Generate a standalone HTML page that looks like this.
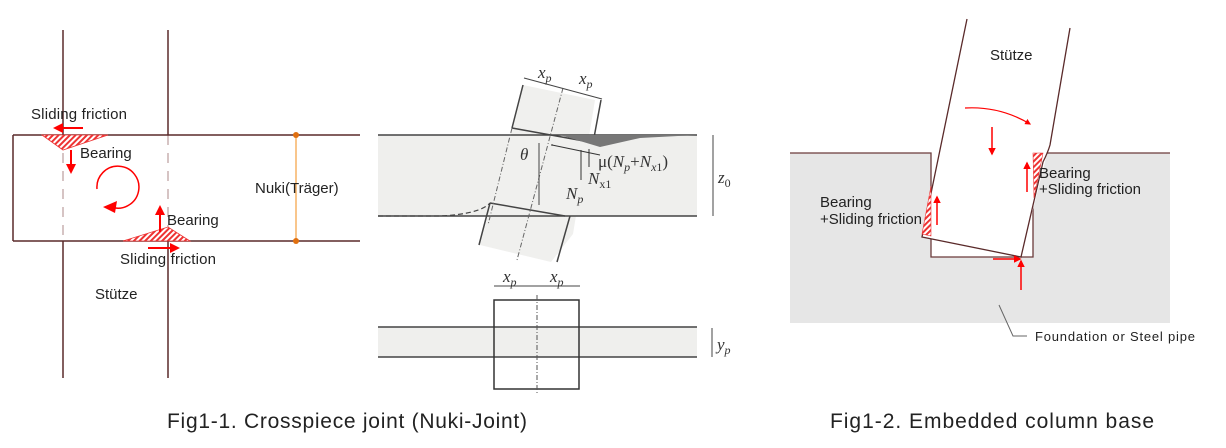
<!DOCTYPE html>
<html><head><meta charset="utf-8"><style>
body{margin:0;background:#fff;width:1226px;height:448px;overflow:hidden}
svg{display:block}
text{font-family:"Liberation Sans","DejaVu Sans",sans-serif;fill:#222}
.s{font-family:"Liberation Serif",serif;font-style:italic;fill:#333}
</style></head><body>
<svg width="1226" height="448" viewBox="0 0 1226 448">
<defs>
<pattern id="h" width="4" height="4" patternUnits="userSpaceOnUse" patternTransform="rotate(45)">
<rect width="4" height="4" fill="#fff"/><rect width="2" height="4" fill="#e33"/></pattern>
<marker id="a" viewBox="0 0 10 10" refX="8" refY="5" markerWidth="5" markerHeight="5" orient="auto"><path d="M0,0L10,5L0,10z" fill="red"/></marker>
<marker id="d" viewBox="0 0 10 10" refX="5" refY="5" markerWidth="3" markerHeight="3"><circle cx="5" cy="5" r="3" fill="#444"/></marker>
</defs>
<!-- LEFT -->
<line x1="63" y1="30" x2="63" y2="135" stroke="#5a2a2a" stroke-width="1.5"/>
<line x1="63" y1="241" x2="63" y2="378" stroke="#5a2a2a" stroke-width="1.5"/>
<line x1="168" y1="30" x2="168" y2="135" stroke="#5a2a2a" stroke-width="1.5"/>
<line x1="168" y1="241" x2="168" y2="378" stroke="#5a2a2a" stroke-width="1.5"/>
<line x1="63" y1="135" x2="63" y2="241" stroke="#c8b0b0" stroke-width="1.5" stroke-dasharray="10,8"/>
<line x1="168" y1="135" x2="168" y2="241" stroke="#c8b0b0" stroke-width="1.5" stroke-dasharray="10,8"/>
<path d="M13,135H360M13,241H360M13,135V241" stroke="#5a2a2a" stroke-width="1.5" fill="none"/>
<line x1="296" y1="135" x2="296" y2="241" stroke="#f5a040" stroke-width="1.2"/>
<circle cx="296" cy="135" r="3" fill="#e07010"/><circle cx="296" cy="241" r="3" fill="#e07010"/>
<polygon points="42,135 108,135 63,150" fill="url(#h)" stroke="#e33" stroke-width="0.8"/>
<polygon points="123,241 190,241 168,227" fill="url(#h)" stroke="#e33" stroke-width="0.8"/>
<line x1="83" y1="128" x2="55" y2="128" stroke="red" stroke-width="2" marker-end="url(#a)"/>
<line x1="71" y1="150" x2="71" y2="172" stroke="red" stroke-width="2" marker-end="url(#a)"/>
<line x1="160" y1="232" x2="160" y2="207" stroke="red" stroke-width="2" marker-end="url(#a)"/>
<line x1="148" y1="248" x2="178" y2="248" stroke="red" stroke-width="2" marker-end="url(#a)"/>
<path d="M97,189 A21,21 0 1 1 111,207" stroke="red" stroke-width="1.5" fill="none"/>
<path d="M103,207 L117,201 L115,213 z" fill="red"/>
<text x="31" y="119" font-size="15" textLength="96">Sliding friction</text>
<text x="80" y="158" font-size="15">Bearing</text>
<text x="167" y="225" font-size="15">Bearing</text>
<text x="120" y="264" font-size="15" textLength="96">Sliding friction</text>
<text x="95" y="299" font-size="15">Stütze</text>
<text x="255" y="193" font-size="15">Nuki(Träger)</text>
<!-- MIDDLE -->
<rect x="378" y="135" width="319" height="81" fill="#efefed"/>
<polygon points="523,85 595,100 573,234 551,262 480,245" fill="#f0f0ee"/>
<path d="M378,135H697M378,216H697" stroke="#444" stroke-width="1.5"/>
<path d="M523,85L512,128M601,100L593,143M512,128L595,143M490,203L565,216M490,203L479,245M570,216L557,262" stroke="#444" stroke-width="1.5" fill="none"/>
<path d="M560,135L600,147L640,138L697,135Z" fill="#777"/>
<path d="M378,216H440Q480,214 490,203" stroke="#444" stroke-width="1.2" stroke-dasharray="5,3" fill="none"/>
<path d="M563,88L517,260M512,128L488,225" stroke="#666" stroke-dasharray="5,2,1,2" fill="none"/>
<line x1="539" y1="143" x2="539" y2="205" stroke="#444"/>
<line x1="600" y1="155" x2="552" y2="145" stroke="#333" marker-end="url(#d)"/>
<line x1="581" y1="150" x2="581" y2="180" stroke="#333"/><line x1="589" y1="149" x2="589" y2="167" stroke="#333"/>
<line x1="524" y1="78" x2="602" y2="99" stroke="#444"/>
<text class="s" x="538" y="78" font-size="17">x<tspan font-size="12" dy="4">p</tspan></text>
<text class="s" x="579" y="84" font-size="17">x<tspan font-size="12" dy="4">p</tspan></text>
<text class="s" x="520" y="160" font-size="17">θ</text>
<text class="s" x="598" y="167" font-size="17" style="font-style:normal">μ(<tspan font-style="italic">N</tspan><tspan font-size="12" dy="4" font-style="italic">p</tspan><tspan dy="-4">+</tspan><tspan font-style="italic">N</tspan><tspan font-size="12" dy="4" font-style="italic">x</tspan><tspan font-size="12">1</tspan><tspan dy="-4">)</tspan></text>
<text class="s" x="588" y="184" font-size="17">N<tspan font-size="12" dy="4" style="font-style:normal">x1</tspan></text>
<text class="s" x="566" y="199" font-size="17">N<tspan font-size="12" dy="4">p</tspan></text>
<line x1="713" y1="135" x2="713" y2="216" stroke="#444"/>
<text class="s" x="718" y="183" font-size="17">z<tspan font-size="12" dy="4" style="font-style:normal">0</tspan></text>
<rect x="378" y="327" width="319" height="30" fill="#efefed"/>
<path d="M378,327H697M378,357H697" stroke="#444" stroke-width="1.5"/>
<rect x="494" y="300" width="85" height="89" fill="none" stroke="#333" stroke-width="1.5"/>
<line x1="537" y1="295" x2="537" y2="395" stroke="#555" stroke-dasharray="5,2,1,2"/>
<line x1="494" y1="286" x2="580" y2="286" stroke="#444"/>
<text class="s" x="503" y="282" font-size="17">x<tspan font-size="12" dy="4">p</tspan></text>
<text class="s" x="550" y="282" font-size="17">x<tspan font-size="12" dy="4">p</tspan></text>
<line x1="712" y1="328" x2="712" y2="357" stroke="#444"/>
<text class="s" x="717" y="350" font-size="17">y<tspan font-size="12" dy="4">p</tspan></text>
<!-- RIGHT -->
<rect x="790" y="153" width="380" height="170" fill="#e6e6e6"/>
<path d="M790,153H931V257H1033V153H1170" stroke="#6b3b3b" stroke-width="1.3" fill="#fff"/>
<polygon points="967,19 922,237 1021,257 1045,162 1047,150 1070,28" fill="#fff"/>
<path d="M967,19L922,237L1021,257L1043,162Q1048,152 1050,145L1070,28" stroke="#5a2a2a" stroke-width="1.3" fill="none"/>
<polygon points="931,186 922,234 931,236" fill="url(#h)" stroke="#e33" stroke-width="0.6"/>
<polygon points="1033,153 1043,153 1034,198" fill="url(#h)" stroke="#e33" stroke-width="0.6"/>
<path d="M965,108Q1000,106 1030,124" stroke="red" stroke-width="1.2" fill="none" marker-end="url(#a)"/>
<line x1="992" y1="127" x2="992" y2="154" stroke="red" stroke-width="1.5" marker-end="url(#a)"/>
<line x1="1027" y1="192" x2="1027" y2="163" stroke="red" stroke-width="1.5" marker-end="url(#a)"/>
<line x1="937" y1="225" x2="937" y2="197" stroke="red" stroke-width="1.5" marker-end="url(#a)"/>
<line x1="993" y1="259" x2="1020" y2="259" stroke="red" stroke-width="1.5" marker-end="url(#a)"/>
<line x1="1021" y1="290" x2="1021" y2="261" stroke="red" stroke-width="1.5" marker-end="url(#a)"/>
<path d="M999,305L1013,336H1027" stroke="#666" fill="none"/>
<text x="990" y="60" font-size="15">Stütze</text>
<text x="1039" y="178" font-size="15">Bearing</text>
<text x="1039" y="194" font-size="15" textLength="102">+Sliding friction</text>
<text x="820" y="207" font-size="15">Bearing</text>
<text x="820" y="224" font-size="15" textLength="102">+Sliding friction</text>
<text x="1035" y="341" font-size="13" textLength="160">Foundation or Steel pipe</text>
<!-- captions -->
<text x="167" y="428" font-size="21" textLength="360">Fig1-1. Crosspiece joint (Nuki-Joint)</text>
<text x="830" y="428" font-size="21" textLength="324">Fig1-2. Embedded column base</text>
</svg>
</body></html>
